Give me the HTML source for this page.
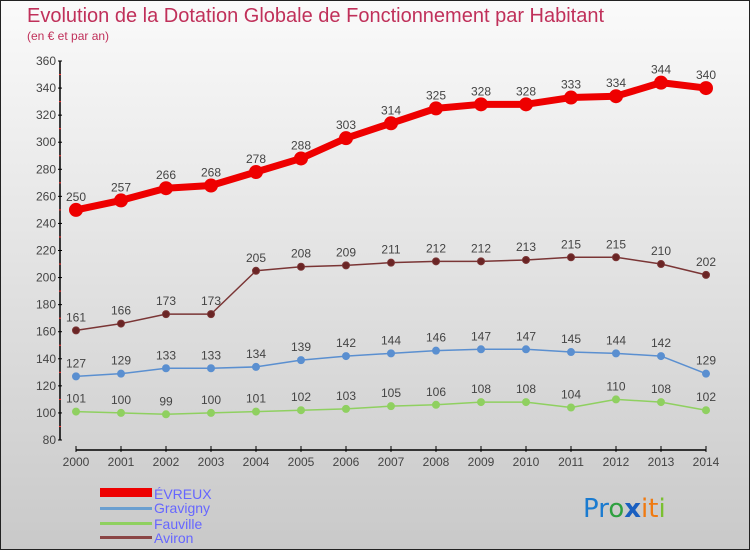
<!DOCTYPE html>
<html><head><meta charset="utf-8"><style>
body{margin:0;}
#c{width:750px;height:550px;position:relative;box-sizing:border-box;border:1px solid #222;background:linear-gradient(#fafafa,#c9c9c9);font-family:"Liberation Sans",sans-serif;overflow:hidden}
</style></head><body>
<div id="c">
<svg id="s" width="750" height="550" style="position:absolute;left:-1px;top:-1px">
<text x="27" y="22" font-size="20" fill="#c0305a">Evolution de la Dotation Globale de Fonctionnement par Habitant</text>
<text x="27" y="40" font-size="12" fill="#c0305a">(en € et par an)</text>
<g id="axes"></g><g id="series"></g>
<g>
<rect x="100" y="488" width="52" height="9" fill="#e00"/>
<text x="154" y="499" font-size="14" fill="#66f">ÉVREUX</text>
<rect x="100" y="507" width="52" height="3" fill="#6a9fd0"/>
<text x="154" y="513" font-size="14" fill="#66f">Gravigny</text>
<rect x="100" y="522" width="52" height="3" fill="#8fd060"/>
<text x="154" y="529" font-size="14" fill="#66f">Fauville</text>
<rect x="100" y="536" width="52" height="3" fill="#8a4545"/>
<text x="154" y="543" font-size="14" fill="#66f">Aviron</text>
</g>
<g font-size="26" font-family="'DejaVu Sans',sans-serif">
<text x="583" y="517"><tspan fill="#1a7bd0">Pr</tspan><tspan fill="#2ea040">o</tspan><tspan fill="#1a5fc0" font-weight="bold">x</tspan><tspan fill="#f07a10">i</tspan><tspan fill="#f07a10">t</tspan><tspan fill="#7ac030">i</tspan></text>
</g>
</svg>
</div>
<script>
const years=[2000,2001,2002,2003,2004,2005,2006,2007,2008,2009,2010,2011,2012,2013,2014];
const yTicks=[80,100,120,140,160,180,200,220,240,260,280,300,320,340,360];
const evreux=[250,257,266,268,278,288,303,314,325,328,328,333,334,344,340];
const gravigny=[127,129,133,133,134,139,142,144,146,147,147,145,144,142,129];
const fauville=[101,100,99,100,101,102,103,105,106,108,108,104,110,108,102];
const aviron=[161,166,173,173,205,208,209,211,212,212,213,215,215,210,202];
const NS="http://www.w3.org/2000/svg";
function X(i){return 76+i*(706-76)/(years.length-1);}
function Y(v){return 440-(v-80)*(440-61)/280;}
function mk(t,a,p){const e=document.createElementNS(NS,t);for(const k in a)e.setAttribute(k,a[k]);p.appendChild(e);return e;}
const ax=document.getElementById('axes');
mk('line',{x1:60,y1:Y(360),x2:60,y2:Y(80),stroke:'#000','stroke-width':1.5},ax);
mk('line',{x1:76,y1:450,x2:706,y2:450,stroke:'#000','stroke-width':1.5},ax);
yTicks.forEach(v=>{
 mk('line',{x1:58,y1:Y(v),x2:62,y2:Y(v),stroke:'#000'},ax);
 if(v<360)mk('line',{x1:59,y1:Y(v+10),x2:61,y2:Y(v+10),stroke:'#f33'},ax);
 const t=mk('text',{x:56,y:Y(v)+4,'font-size':12,fill:'#444','text-anchor':'end'},ax);
 t.textContent=v;
 
 
});
years.forEach((y,i)=>{
 mk('line',{x1:X(i),y1:446,x2:X(i),y2:452,stroke:'#000'},ax);
 const t=mk('text',{x:X(i),y:466,'font-size':12,fill:'#444','text-anchor':'middle'},ax);
 t.textContent=y;
 
 
});
const sg=document.getElementById('series');
function draw(name,data,color,w,r,fill){
 const g=mk('g',{},sg);
 
 
 mk('polyline',{points:data.map((v,i)=>X(i)+','+Y(v)).join(' '),fill:'none',stroke:color,'stroke-width':w,'stroke-linejoin':'round'},g);
 data.forEach((v,i)=>{
  const c=mk('circle',{cx:X(i),cy:Y(v),r:r,fill:fill,stroke:color,'stroke-width':1},g);
  
  
  const t=mk('text',{x:X(i),y:Y(v)-9,'font-size':12,fill:'#444','text-anchor':'middle'},g);
  t.textContent=v;
  
  
 });
}
draw('fauville',fauville,'#8fd060',1.5,3.5,'#8fd060');
draw('gravigny',gravigny,'#5a8fd0',1.5,3.5,'#5a8fd0');
draw('aviron',aviron,'#7a3535',1.5,3.5,'#6a2525');
draw('evreux',evreux,'#ee0000',7,6.5,'#ee0000');
</script>
</body></html>
